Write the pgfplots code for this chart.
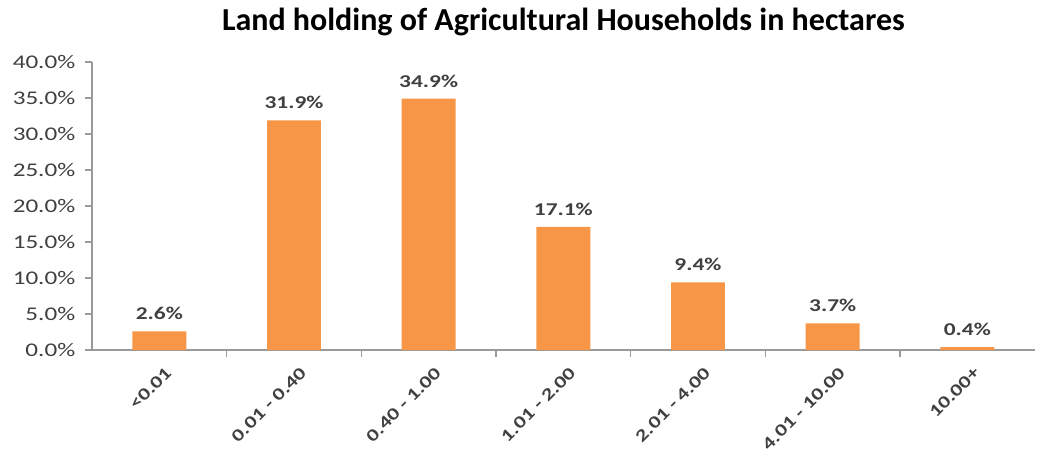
\documentclass[border=0pt]{standalone}
\usepackage{fontspec}
\setmainfont{Carlito}
\newfontfamily\stretchfont{Carlito}[FakeStretch=1.3]
\usepackage{pgfplots}
\pgfplotsset{compat=1.18}
\definecolor{barorange}{HTML}{F79646}
\definecolor{labelgray}{HTML}{404040}
\definecolor{axisgray}{HTML}{9A9A9A}
\begin{document}
\begin{tikzpicture}
\path[use as bounding box] (-69pt,-81pt) rectangle (712.5pt,262.5pt);
\begin{axis}[
  scale only axis,
  width=707pt, height=216pt,
  xmin=-0.5, xmax=6.5,
  ymin=0, ymax=40,
  ytick={0,5,...,40},
  xtick={0,...,6},
  xticklabels={{<0.01},{0.01 - 0.40},{0.40 - 1.00},{1.01 - 2.00},{2.01 - 4.00},{4.01 - 10.00},{10.00+}},
  minor xtick={0.5,1.5,...,5.5},
  major x tick style={draw=none},
  tick align=outside,
  major tick length=5pt,
  minor tick length=5pt,
  every tick/.style={axisgray, line width=0.8pt},
  axis lines*=left,
  axis line style={axisgray, line width=0.8pt},
  /pgf/number format/assume math mode=true,
  yticklabel={\pgfmathprintnumber[fixed,fixed zerofill,precision=1]{\tick}\%},
  yticklabel style={font=\stretchfont\fontsize{14.5}{14.5}\selectfont, text=labelgray, xshift=-4pt},
  xticklabel style={font=\stretchfont\bfseries\fontsize{13}{13}\selectfont, text=labelgray, rotate=45, anchor=east, inner sep=1pt, xshift=-1pt, yshift=-12pt},
  title={Land holding of Agricultural Households in hectares},
  title style={font=\bfseries\fontsize{24}{24}\selectfont, at={(0.5,1)}, anchor=base, yshift=18pt},
  ybar,
  bar width=0.4,
  nodes near coords={\pgfmathprintnumber[fixed,fixed zerofill,precision=1]{\pgfplotspointmeta}\%},
  nodes near coords style={font=\stretchfont\bfseries\fontsize{13.5}{13.5}\selectfont, text=labelgray, anchor=south, yshift=5pt},
]
\addplot[fill=barorange, draw=none] coordinates {(0,2.6) (1,31.9) (2,34.9) (3,17.1) (4,9.4) (5,3.7) (6,0.4)};
\end{axis}
\end{tikzpicture}
\end{document}
